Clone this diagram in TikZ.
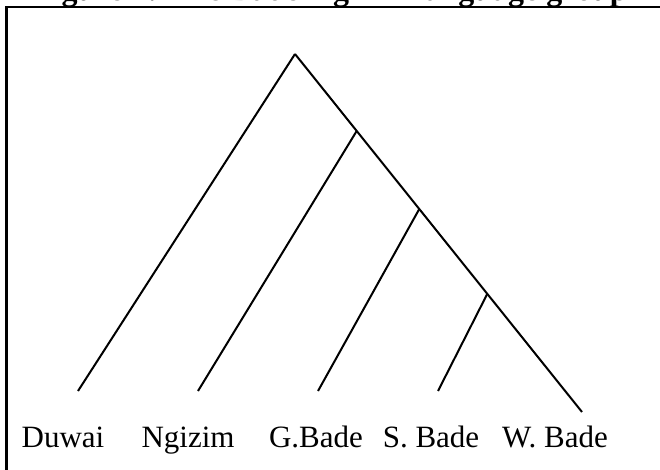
\documentclass[tikz,border=0pt]{standalone}
\usepackage{fontspec}
\setmainfont{Liberation Serif}
\usetikzlibrary{calc}
\begin{document}
\begin{tikzpicture}
[x=1pt,y=-1pt,%
  lineDecorate/.style={-,line width=2pt},
  frameDecorate/.style={-,line width=2.4pt},
  labelDecorate/.style={inner sep=0pt,anchor=base,font=\fontsize{31}{36}\selectfont},
  titleDecorate/.style={inner sep=0pt,anchor=base west,font=\fontsize{32}{38}\selectfont\bfseries}]
\useasboundingbox (0,0) rectangle (660,470);
\clip (0,0) rectangle (660,470);
%% frame and title
\node (title) at (33,0.5) [titleDecorate] {Figure 4: The Bade-Ngizim language group};
\coordinate (frameTL) at (6.5,7);
\coordinate (frameTR) at (660,7);
\coordinate (frameBL) at (6.5,470);
\draw[frameDecorate] (frameTR) -- (frameTL) -- (frameBL);
%% root and right edge
\coordinate (root) at (295,54);
\coordinate (wbadeEnd) at (582,412);
%% branch points on the right edge
\foreach \nodename/\t in {
  b1/0.215, b2/0.433, b3/0.670}
{
  \coordinate (\nodename) at ($(root)!\t!(wbadeEnd)$);
}
%% leaf ends
\foreach \nodename/\x in {
  duwaiEnd/78, ngizimEnd/198, gbadeEnd/318, sbadeEnd/438}
{
  \coordinate (\nodename) at (\x,391);
}
%% labels
\foreach \nodename/\x/\txt in {
  duwai/63/Duwai, ngizim/188/Ngizim, gbade/316/G.Bade, sbade/431/S. Bade, wbade/555/W. Bade}
{
  \node (\nodename) at (\x,447) [labelDecorate] {\txt};
}
%% edges or lines
\path
\foreach \startnode/\endnode in {
  root/duwaiEnd, root/wbadeEnd, b1/ngizimEnd, b2/gbadeEnd, b3/sbadeEnd}
{
  (\startnode) edge[lineDecorate] (\endnode)
};
\end{tikzpicture}
\end{document}
